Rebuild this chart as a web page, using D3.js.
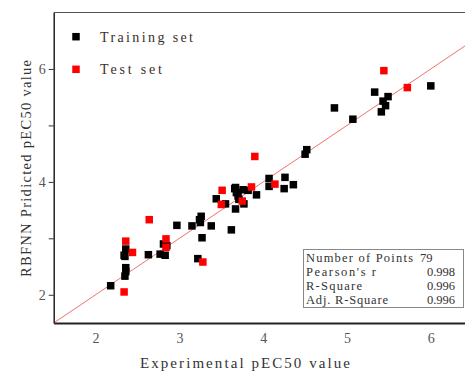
<!DOCTYPE html>
<html>
<head>
<meta charset="utf-8">
<script src="https://cdn.jsdelivr.net/npm/d3@7"></script>
<style>
  body { margin: 0; background: #fff; }
  svg { display: block; }
  text { font-family: "Liberation Serif", "DejaVu Serif", serif; }
</style>
</head>
<body>
<svg id="chart" width="465" height="372"></svg>
<script>
// training set (experimental, predicted)
var trainX = [2.18, 2.35, 2.36, 2.36, 2.35, 2.34, 2.36, 2.63, 2.77, 2.83, 2.81, 2.85, 2.97, 3.15, 3.22, 3.27,
  3.25, 3.26, 3.24, 3.38, 3.44, 3.55, 3.62, 3.67, 3.67, 3.68, 3.71, 3.76, 3.82, 3.77, 3.92, 3.66, 3.70,
  4.07, 4.07, 4.26, 4.25, 4.36, 4.50, 4.52, 4.85, 5.07, 5.33, 5.41, 5.43, 5.46, 5.49, 6.00];
var trainY = [2.16, 2.33, 2.41, 2.48, 2.68, 2.70, 2.81, 2.71, 2.72, 2.70, 2.90, 2.87, 3.23, 3.22, 2.64, 3.01,
  3.28, 3.39, 3.33, 3.22, 3.70, 3.61, 3.15, 3.52, 3.90, 3.81, 3.69, 3.86, 3.85, 3.61, 3.77, 3.88, 3.75,
  4.06, 3.92, 4.08, 3.88, 3.95, 4.49, 4.57, 5.31, 5.11, 5.59, 5.24, 5.43, 5.35, 5.51, 5.70];
// test set
var testX = [2.34, 2.36, 2.44, 2.64, 2.84, 2.84, 3.28, 3.51, 3.50, 3.75, 3.86, 3.90, 4.14, 5.44, 5.72];
var testY = [2.05, 2.95, 2.75, 3.33, 2.99, 2.84, 2.58, 3.85, 3.60, 3.66, 3.91, 4.45, 3.96, 5.97, 5.67];

var xTicks = [2, 3, 4, 5, 6];
var yTicks = [2, 3, 4, 5, 6];
var yLabels = [2, 4, 6];
var statNames = ["Number of Points", "Pearson's r", "R-Square", "Adj. R-Square"];
var statValues = ["79", "0.998", "0.996", "0.996"];

var svg = d3.select("#chart"),
	pLeft = 53.7, pRight = 472.7, pTop = 12.5, pBottom = 323;

var x = d3.scaleLinear().domain([1.5, 6.5]).range([pLeft, pRight]);
var y = d3.scaleLinear().domain([1.5, 7]).range([pBottom, pTop]);

svg.append("clipPath").attr("id", "clip")
	.append("rect").attr("x", pLeft).attr("y", pTop).attr("width", pRight - pLeft).attr("height", pBottom - pTop);

// y = x reference line
svg.append("line")
	.attr("clip-path", "url(#clip)")
	.attr("x1", x(1.5)).attr("y1", y(1.5))
	.attr("x2", x(7)).attr("y2", y(7))
	.attr("stroke", "#f07070").attr("stroke-width", 1);

var s = 7.5;
function drawPoints(xs, ys, color) {
	svg.append("g").selectAll("rect")
		.data(xs.map(function(d, i) { return [d, ys[i]]; }))
		.enter().append("rect")
		.attr("x", function(d) { return x(d[0]) - s / 2; })
		.attr("y", function(d) { return y(d[1]) - s / 2; })
		.attr("width", s).attr("height", s)
		.attr("fill", color);
}
drawPoints(trainX, trainY, "#000");
drawPoints(testX, testY, "#ff0000");

// frame: top border
svg.append("line")
	.attr("x1", pLeft).attr("x2", pRight).attr("y1", pTop).attr("y2", pTop)
	.attr("stroke", "#555").attr("stroke-width", 1);

// left axis
var yAxis = d3.axisLeft(y).tickValues(yTicks).tickSize(5).tickSizeOuter(0)
	.tickFormat(function(d) { return yLabels.indexOf(d) >= 0 ? d : ""; });
var gy = svg.append("g").attr("transform", "translate(" + pLeft + ",0)").call(yAxis);
gy.select(".domain").attr("stroke", "#222").attr("stroke-width", 1.5);
gy.selectAll(".tick line").attr("stroke", "#333");
gy.selectAll(".tick text").attr("x", -8).attr("font-size", 14)
	.attr("font-family", "Liberation Serif").attr("fill", "#555");

// bottom axis (labels only)
var xAxis = d3.axisBottom(x).tickValues(xTicks).tickSize(0).tickPadding(10).tickSizeOuter(0)
	.tickFormat(d3.format("d"));
var gx = svg.append("g").attr("transform", "translate(0," + pBottom + ")").call(xAxis);
gx.select(".domain").attr("stroke", "#222").attr("stroke-width", 2);
gx.selectAll(".tick text").attr("font-size", 14)
	.attr("font-family", "Liberation Serif").attr("fill", "#555");

// axis titles
svg.append("text").attr("x", 140).attr("y", 368)
	.attr("textLength", 210).attr("lengthAdjust", "spacing")
	.attr("font-size", 15).attr("fill", "#333").text("Experimental pEC50 value");
svg.append("text").attr("transform", "translate(31,277) rotate(-90)")
	.attr("textLength", 217).attr("lengthAdjust", "spacing")
	.attr("font-size", 14.5).attr("fill", "#333").text("RBFNN Pridicted pEC50 value");

// legend
var legend = [["Training set", "#000", 93], ["Test set", "#ff0000", 62]];
legend.forEach(function(l, i) {
	var cy = 36.7 + i * 32.6;
	svg.append("rect").attr("x", 76 - s / 2).attr("y", cy - s / 2).attr("width", s).attr("height", s).attr("fill", l[1]);
	svg.append("text").attr("x", 100).attr("y", cy + 5)
		.attr("textLength", l[2]).attr("lengthAdjust", "spacing")
		.attr("font-size", 14).attr("fill", "#3a2e28").text(l[0]);
});

// stats box
var statLen = [107, 70, 56, 82];
svg.append("rect").attr("x", 303.5).attr("y", 249.5).attr("width", 160).attr("height", 58)
	.attr("fill", "#fff").attr("stroke", "#888").attr("stroke-width", 1);
statNames.forEach(function(n, i) {
	var by = 262 + i * 14;
	svg.append("text").attr("x", 306).attr("y", by)
		.attr("textLength", statLen[i]).attr("lengthAdjust", "spacing")
		.attr("font-size", 12.5).attr("fill", "#333").text(n);
	svg.append("text").attr("x", i === 0 ? 420 : 455).attr("y", by)
		.attr("text-anchor", i === 0 ? "start" : "end")
		.attr("font-size", 12.5).attr("fill", "#333").text(statValues[i]);
});
</script>
</body>
</html>
